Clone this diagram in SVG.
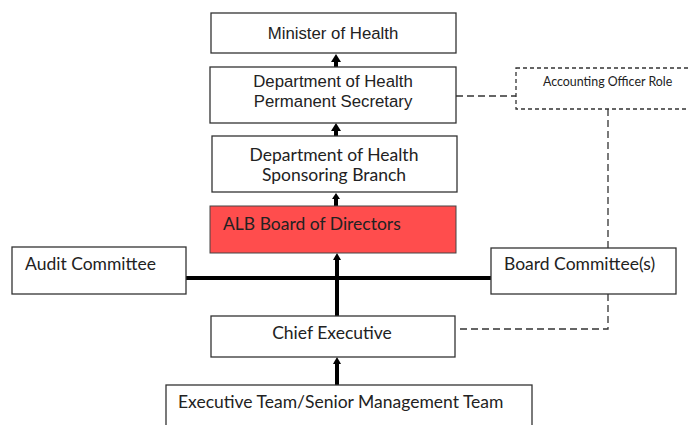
<svg xmlns="http://www.w3.org/2000/svg" width="689" height="425" viewBox="0 0 689 425">
<style>
.box{fill:#fff;stroke:#333;stroke-width:1.3}
.arial{font-family:"Liberation Sans",Arial,sans-serif;font-size:16.8px;fill:#222}
.cal{font-family:Lato,"Open Sans",sans-serif;font-size:17.5px;fill:#222}
.small{font-family:Lato,"Open Sans",sans-serif;font-size:12.4px;fill:#222}
.thick{stroke:#000;stroke-width:4;fill:none}
.dash{stroke:#333;stroke-width:1.3;fill:none;stroke-dasharray:7 4}
.head{fill:#000}
</style>
<g id="connectors">
<line class="thick" x1="336" y1="67" x2="336" y2="58"/>
<path class="head" d="M331,62 L336,54 L341,62 Z"/>
<line class="thick" x1="336" y1="136" x2="336" y2="127"/>
<path class="head" d="M331,131 L336,123 L341,131 Z"/>
<line class="thick" x1="336" y1="206" x2="336" y2="196"/>
<path class="head" d="M332,199 L336,193 L340,199 Z"/>
<line class="thick" x1="337" y1="316" x2="337" y2="258"/>
<path class="head" d="M333,260 L337,253 L341,260 Z"/>
<line class="thick" x1="186" y1="278" x2="491" y2="278"/>
<line class="thick" x1="337" y1="385" x2="337" y2="362"/>
<path class="head" d="M333,364 L337,357 L341,364 Z"/>
<line class="dash" x1="456" y1="96" x2="516" y2="96"/>
<line class="dash" x1="608" y1="109" x2="608" y2="248"/>
<polyline class="dash" points="608,294 608,329 456,329"/>
</g>
<g id="minister">
<rect class="box" x="211" y="13" width="245" height="40"/>
<text class="arial" x="333" y="33" text-anchor="middle" dominant-baseline="central">Minister of Health</text>
</g>
<g id="perm-sec">
<rect class="box" x="210" y="67" width="246" height="56"/>
<text class="arial" x="333" y="81" text-anchor="middle" dominant-baseline="central">Department of Health</text>
<text class="arial" x="333" y="101" text-anchor="middle" dominant-baseline="central">Permanent Secretary</text>
</g>
<g id="accounting-officer">
<rect x="516" y="68" width="180" height="41" fill="#fff" stroke="#333" stroke-width="1.3" stroke-dasharray="4 3"/>
<text class="small" x="543" y="81" dominant-baseline="central">Accounting Officer Role</text>
</g>
<g id="sponsoring">
<rect class="box" x="212" y="136" width="245" height="56"/>
<text class="cal" x="334" y="154" text-anchor="middle" dominant-baseline="central">Department of Health</text>
<text class="cal" x="334" y="174" text-anchor="middle" dominant-baseline="central">Sponsoring Branch</text>
</g>
<g id="alb-board">
<rect x="210" y="206" width="246" height="47" fill="#FF4D4D" stroke="#444" stroke-width="1"/>
<text class="cal" x="223" y="223" dominant-baseline="central">ALB Board of Directors</text>
</g>
<g id="audit">
<rect class="box" x="12" y="247" width="174" height="47"/>
<text class="cal" x="25" y="263" dominant-baseline="central">Audit Committee</text>
</g>
<g id="board-committees">
<rect class="box" x="491" y="248" width="185" height="46"/>
<text class="cal" x="504" y="263" dominant-baseline="central">Board Committee(s)</text>
</g>
<g id="chief-exec">
<rect class="box" x="211" y="316" width="244" height="41"/>
<text class="cal" x="332" y="332" text-anchor="middle" dominant-baseline="central">Chief Executive</text>
</g>
<g id="exec-team">
<rect class="box" x="166" y="385" width="366" height="50"/>
<text class="cal" x="178" y="401" dominant-baseline="central">Executive Team/Senior Management Team</text>
</g>
</svg>
